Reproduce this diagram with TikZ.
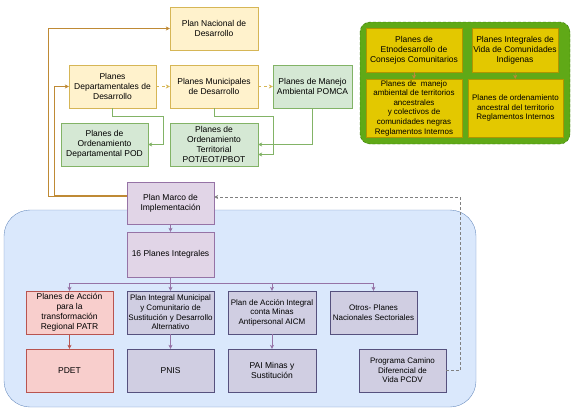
\documentclass[tikz,border=0pt]{standalone}
\usepackage{fontspec}
\setmainfont{Liberation Sans}
\usetikzlibrary{positioning, arrows.meta, calc}
\definecolor{ylFill}{HTML}{FFF2CC}
\definecolor{ylLine}{HTML}{D6B656}
\definecolor{grFill}{HTML}{D5E8D4}
\definecolor{grLine}{HTML}{82B366}
\definecolor{puFill}{HTML}{E1D5E7}
\definecolor{puLine}{HTML}{9673A6}
\definecolor{lvFill}{HTML}{D0CEE2}
\definecolor{lvLine}{HTML}{56517E}
\definecolor{rdFill}{HTML}{F8CECC}
\definecolor{rdLine}{HTML}{B85450}
\definecolor{blFill}{HTML}{DAE8FC}
\definecolor{blLine}{HTML}{6C8EBF}
\definecolor{etFill}{HTML}{60A917}
\definecolor{etLine}{HTML}{2D7600}
\definecolor{auFill}{HTML}{E3C800}
\definecolor{auLine}{HTML}{B09500}
\definecolor{orLine}{HTML}{BF8A35}

\begin{document}
\begin{tikzpicture}[x=1pt,y=-1pt,
  box/.style={draw, align=center, inner sep=1pt, font=\fontsize{8.5}{10}\selectfont,
    minimum width=87pt, minimum height=43pt},
  small/.style={font=\fontsize{8}{9.6}\selectfont},
  yl/.style={box, fill=ylFill, draw=ylLine},
  gr/.style={box, fill=grFill, draw=grLine},
  pu/.style={box, fill=puFill, draw=puLine},
  lv/.style={box, fill=lvFill, draw=lvLine},
  rd/.style={box, fill=rdFill, draw=rdLine},
  au/.style={box, fill=auFill, draw=auLine},
  tip/.style={-{Stealth[length=4pt,width=4pt]}}]
\useasboundingbox (0,0) rectangle (586,415);

% containers
\draw[blLine, fill=blFill, rounded corners=26pt] (4,210) rectangle (476,407);
\draw[etLine, fill=etFill, densely dashed, rounded corners=10pt] (360,22) rectangle (570,144);

% upper plans
\node[yl, minimum width=88pt] (nac) at (214,28.5) {Plan Nacional de\\Desarrollo};
\node[yl] (dep) at (112.5,86.5) {Planes\\Departamentales de\\Desarrollo};
\node[yl, minimum width=88pt] (mun) at (214,86.5) {Planes Municipales\\de Desarrollo};
\node[gr, minimum width=79pt] (pom) at (312.5,86.5) {Planes de Manejo\\Ambiental POMCA};
\node[gr] (pod) at (104.5,144.5) {Planes de\\Ordenamiento\\Departamental POD};
\node[gr, minimum width=88pt] (pot) at (214,144.5) {Planes de\\Ordenamiento\\Territorial\\POT/EOT/PBOT};

% ethnic plans
\node[au, minimum width=96pt, minimum height=44pt] (etn) at (414,50) {Planes de\\Etnodesarrollo de\\Consejos Comunitarios};
\node[au, minimum width=86pt, minimum height=44pt] (piv) at (515,50) {Planes Integrales de\\Vida de Comunidades\\Indigenas};
\node[au, small, minimum width=96pt, minimum height=58pt] (mat) at (414,108) {Planes de~ manejo\\ambiental de territorios\\ancestrales\\y colectivos de\\comunidades negras\\Reglamentos Internos};
\node[au, small, minimum width=95pt, minimum height=58pt] (oat) at (515.5,108) {Planes de ordenamiento\\ancestral del territorio\\Reglamentos Internos};

% implementation plans
\node[pu, minimum height=42pt] (pmi) at (170.5,203) {Plan Marco de\\Implementación};
\node[pu, minimum height=45pt] (pin) at (170.5,254.5) {16 Planes Integrales};
\node[rd] (patr) at (69.5,312.5) {Planes de Acción\\para la\\transformación\\Regional PATR};
\node[lv, small] (pism) at (170.5,312.5) {Plan Integral Municipal\\y Comunitario de\\Sustitución y Desarrollo\\Alternativo};
\node[lv, small, minimum width=88pt] (aicm) at (272,312.5) {Plan de Acción Integral\\conta Minas\\Antipersonal AICM};
\node[lv, small] (otr) at (373.5,312.5) {Otros- Planes\\Nacionales Sectoriales};
\node[rd] (pdet) at (69.5,370.5) {PDET};
\node[lv] (pnis) at (170.5,370.5) {PNIS};
\node[lv, minimum width=88pt] (pai) at (272,370.5) {PAI Minas y\\Sustitución};
\node[lv, small] (pcdv) at (402.5,370.5) {Programa Camino\\Diferencial de\\Vida PCDV};

% connectors
\draw[tip, orLine] ([yshift=7pt]pmi.west) -- ++(-79,0) |- (nac.west);
\draw[tip, orLine] ([yshift=8pt]pmi.west) -- ++(-73,0) |- (dep.west);
\draw[tip, ylLine, dashed] (dep) -- (mun);
\draw[tip, ylLine, dashed] (mun) -- (pom);
\draw[tip, grLine] (dep.south) -- ++(0,8) -| ([xshift=15pt]pod.east) -- (pod.east);
\draw[tip, grLine] (mun.south) -- ++(0,8) -| ([xshift=15pt,yshift=-10pt]pot.east) -- ([yshift=-10pt]pot.east);
\draw[tip, grLine] (pom.south) |- (pot.east);
\draw[tip, orLine] (etn) -- (mat);
\draw[tip, orLine] (piv) -- (oat);

\draw[tip, puLine] (pmi) -- (pin);
\draw[tip, puLine] (pin) -- (pism);
\draw[tip, puLine] (pin.south) -- ++(0,6) -| (patr.north);
\draw[tip, puLine] (pin.south) -- ++(0,6) -| (aicm.north);
\draw[tip, puLine] (pin.south) -- ++(0,6) -| (otr.north);
\draw[tip, rdLine] (patr) -- (pdet);
\draw[tip, puLine] (pism) -- (pnis);
\draw[tip, puLine] (aicm) -- (pai);
\draw[tip, gray, densely dashed] (pcdv.east) -- ++(14,0) |- ([yshift=6pt]pmi.east);
\end{tikzpicture}
\end{document}
